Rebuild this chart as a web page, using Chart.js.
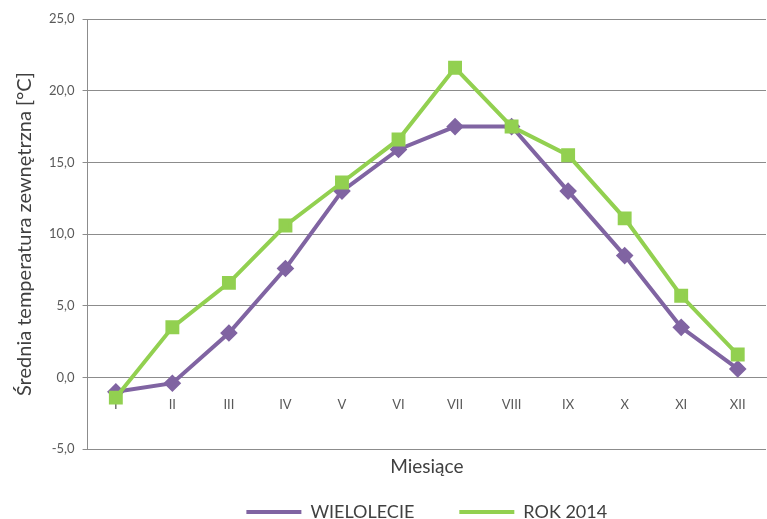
<!DOCTYPE html>
<html>
<head>
<meta charset="utf-8">
<script src="https://cdn.jsdelivr.net/npm/chart.js@4/dist/chart.umd.min.js"></script>
<style>
  html, body { margin: 0; padding: 0; background: #fff; overflow: hidden; }
  #wrap { position: absolute; left: 0; top: 0; width: 777px; height: 531px; }
</style>
</head>
<body>
<div id="wrap"><canvas id="tempChart"></canvas></div>
<script>
// === dane ===
const miesiace = ['I', 'II', 'III', 'IV', 'V', 'VI', 'VII', 'VIII', 'IX', 'X', 'XI', 'XII'];
const wielolecie = [-1.0, -0.4, 3.1, 7.6, 13.0, 15.9, 17.5, 17.5, 13.0, 8.5, 3.5, 0.6];
const rok2014 = [-1.4, 3.5, 6.6, 10.6, 13.6, 16.6, 21.6, 17.5, 15.5, 11.1, 5.7, 1.6];

const FONT = 'Lato, "Liberation Sans", sans-serif';
const gridGrey = '#8c8c8c';

const ctx = document.getElementById('tempChart').getContext('2d');

const tempChart = new Chart(ctx, {
    type: 'line',
    data: {
        labels: miesiace,
        datasets: [
            {
                label: 'WIELOLECIE',
                data: wielolecie,
                borderColor: '#8064a2',
                backgroundColor: '#8064a2',
                borderWidth: 4,
                pointStyle: 'rectRot',
                pointRadius: 6,
                pointHoverRadius: 6,
                tension: 0,
                order: 1
            },
            {
                label: 'ROK 2014',
                data: rok2014,
                borderColor: '#92d050',
                backgroundColor: '#92d050',
                borderWidth: 4,
                pointStyle: 'rect',
                pointRadius: 7,
                pointHoverRadius: 7,
                tension: 0,
                order: 0
            }
        ]
    },
    options: {
        responsive: true,
        maintainAspectRatio: false,
        animation: false,
        layout: { padding: { left: 13, top: 19, right: 0, bottom: 0 } },
        plugins: {
            legend: {
                position: 'bottom',
                fullSize: false, // legenda wyśrodkowana pod wykresem
                labels: {
                    usePointStyle: true,
                    pointStyle: 'line',
                    pointStyleWidth: 55,
                    boxWidth: 55,
                    padding: 45,
                    color: '#404040',
                    font: { family: FONT, size: 18 },
                    sort: (a, b) => a.datasetIndex - b.datasetIndex
                }
            },
            tooltip: { enabled: false }
        },
        scales: {
            x: {
                type: 'category',
                position: { y: 0 },
                offset: true,
                grid: { display: false, drawTicks: false },
                border: { display: true, color: gridGrey },
                ticks: {
                    padding: 20,
                    color: '#595959',
                    font: { family: FONT, size: 13 },
                    maxRotation: 0,
                    autoSkip: false
                }
            },
            x2: {
                type: 'category',
                position: 'bottom',
                offset: true,
                grid: { display: false, drawTicks: false },
                border: { display: false },
                ticks: { display: false },
                title: {
                    display: true,
                    text: 'Miesiące',
                    color: '#404040',
                    font: { family: FONT, size: 19 },
                    padding: { top: 6, bottom: -20 }
                }
            },
            y: {
                min: -5,
                max: 25,
                grid: { color: gridGrey, lineWidth: 1, tickLength: 5 },
                border: { color: gridGrey },
                ticks: {
                    stepSize: 5,
                    padding: 8,
                    color: '#595959',
                    font: { family: FONT, size: 13 },
                    callback: v => v.toFixed(1).replace('.', ',')
                },
                title: {
                    display: true,
                    text: 'Średnia temperatura zewnętrzna [°C]',
                    color: '#404040',
                    font: { family: FONT, size: 20 },
                    padding: { top: 0, bottom: 4 }
                }
            }
        }
    }
});
</script>
</body>
</html>
